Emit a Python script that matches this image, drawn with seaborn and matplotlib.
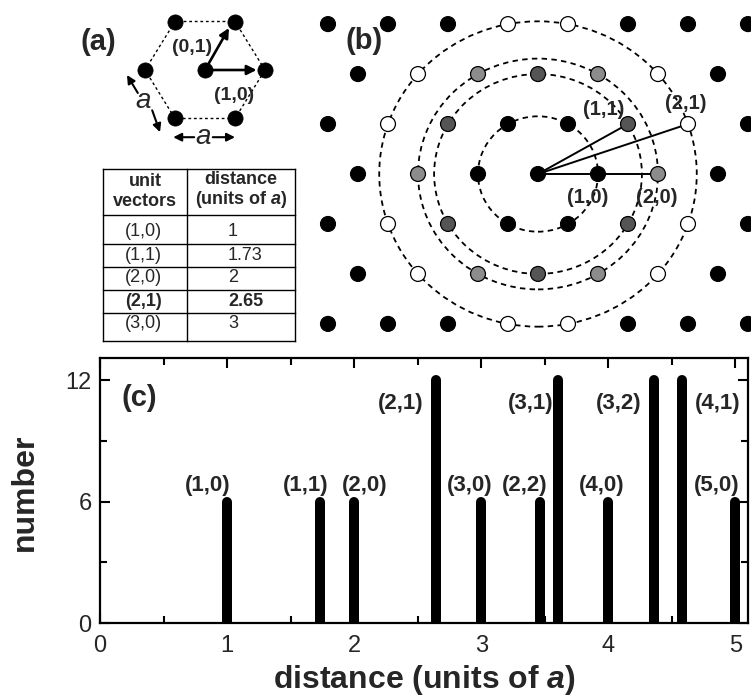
import numpy as np
import pandas as pd
import matplotlib
matplotlib.use("Agg")
import matplotlib.pyplot as plt
from matplotlib.patches import Circle
from matplotlib.ticker import MultipleLocator
import seaborn as sns

# ------------------------------------------------------------------ data
# panel (c): neighbour-distance histogram of a triangular lattice
distances = [1.0, 1.732, 2.0, 2.646, 3.0, 3.464, 3.606, 4.0, 4.359, 4.583, 5.0]
counts = [6, 6, 6, 12, 6, 6, 12, 6, 12, 12, 6]
vector_labels = ["(1,0)", "(1,1)", "(2,0)", "(2,1)", "(3,0)", "(2,2)",
                 "(3,1)", "(4,0)", "(3,2)", "(4,1)", "(5,0)"]
x_ticks = [0, 1, 2, 3, 4, 5]
y_ticks = [0, 6, 12]

# table in panel (a)
table_vectors = ["(1,0)", "(1,1)", "(2,0)", "(2,1)", "(3,0)"]
table_distances = ["1", "1.73", "2", "2.65", "3"]

# panel (b): lattice
lattice_rows = [-3, -2, -1, 0, 1, 2, 3]
even_row_cols = [-3, -2, -1, 0, 1, 2, 3]
odd_row_cols = [-3.5, -2.5, -1.5, -0.5, 0.5, 1.5, 2.5, 3.5]
shell_names = ["(1,0)", "(1,1)", "(2,0)", "(2,1)"]
shell_radii = [1.0, 1.732, 2.0, 2.646]
shell_colors = ["black", "#555555", "#8c8c8c", "white"]
radial_x = [2.0, 1.5, 2.5]
radial_y = [0.0, 0.866, 0.866]

# panel (a): hexagon
hex_x = [1.0, 0.5, -0.5, -1.0, -0.5, 0.5]
hex_y = [0.0, 0.866, 0.866, 0.0, -0.866, -0.866]

# ------------------------------------------------------------------ style
sns.set_theme(style="ticks")
plt.rcParams["font.family"] = ["Liberation Sans", "DejaVu Sans"]
plt.rcParams["mathtext.fontset"] = "custom"
plt.rcParams["mathtext.rm"] = "Liberation Sans"
plt.rcParams["mathtext.it"] = "Liberation Sans:italic:bold"
plt.rcParams["mathtext.bf"] = "Liberation Sans:bold"

W, H = 751, 698
fig = plt.figure(figsize=(W / 100, H / 100), dpi=100)
fig.patch.set_facecolor("white")


def px_axes(x0, y0, x1, y1):
    ax = fig.add_axes([x0 / W, 1 - y1 / H, (x1 - x0) / W, (y1 - y0) / H])
    ax.set_facecolor("none")
    return ax


# ------------------------------------------------------------------ panel (c)
ax_c = px_axes(100, 358, 748, 623)
ax_c.vlines(distances, 0, counts, colors="black", linewidth=7.2,
            capstyle="round", zorder=3)
ax_c.set_xlim(0, 5.1)
ax_c.set_ylim(0, 13.1)
ax_c.set_xticks(x_ticks)
ax_c.set_yticks(y_ticks)
ax_c.xaxis.set_minor_locator(MultipleLocator(0.5))
ax_c.yaxis.set_minor_locator(MultipleLocator(3))
ax_c.tick_params(which="both", direction="in", top=True, right=True,
                 width=1.5, color="black")
ax_c.tick_params(which="major", length=7, labelsize=17)
ax_c.tick_params(which="minor", length=5)
ax_c.tick_params(axis="x", pad=9)
ax_c.tick_params(axis="y", pad=6)
for s in ax_c.spines.values():
    s.set_linewidth(1.6)
    s.set_color("black")

label_x = [0.85, 1.62, 2.08, 2.37, 2.91, 3.34, 3.39, 3.95, 4.08, 4.86, 4.85]
label_y = [6.8, 6.8, 6.8, 10.85, 6.8, 6.8, 10.85, 6.8, 10.85, 10.85, 6.8]
for lab, lx, ly in zip(vector_labels, label_x, label_y):
    ax_c.text(lx, ly, lab, fontsize=16, fontweight="bold",
              ha="center", va="center", zorder=4)
ax_c.text(0.31, 11.1, "(c)", fontsize=21, fontweight="bold",
          ha="center", va="center")

ax_c.set_xlabel("distance (units of $a$)", fontsize=23, fontweight="bold",
                va="center")
ax_c.xaxis.set_label_coords(0.5, (623 - 680) / 265)
ax_c.set_ylabel("number", fontsize=23, fontweight="bold", va="center")
ax_c.yaxis.set_label_coords((25 - 100) / 648, (623 - 492) / 265)

# ------------------------------------------------------------------ panel (b)
ax_b = px_axes(300, 0, 751, 345)
ax_b.set_xlim((300 - 538) / 60, (751 - 538) / 60)
ax_b.set_ylim((174 - 345) / 57.7, 174 / 57.7)
ax_b.axis("off")

recs = []
for r in lattice_rows:
    cols = even_row_cols if r % 2 == 0 else odd_row_cols
    for c in cols:
        y = r * np.sqrt(3) / 2
        d = np.hypot(c, y)
        shell = "other"
        for name, rad in zip(shell_names, shell_radii):
            if abs(d - rad) < 0.05:
                shell = name
        recs.append({"x": c, "y": y, "shell": shell})
lat = pd.DataFrame(recs)
palette = {"other": "black"}
palette.update(dict(zip(shell_names, shell_colors)))

for rad in shell_radii:
    ax_b.add_patch(Circle((0, 0), rad, fill=False, edgecolor="black",
                          lw=1.3, ls=(0, (3, 2.4)), zorder=1))
for vx, vy in zip(radial_x, radial_y):
    ax_b.plot([0, vx], [0, vy], color="black", lw=1.4, zorder=2)

sns.scatterplot(data=lat, x="x", y="y", hue="shell", palette=palette,
                s=115, edgecolor="black", linewidth=0.9, legend=False,
                ax=ax_b, zorder=3, clip_on=False)
ax_b.set_xlabel("")
ax_b.set_ylabel("")

b_labels = [("(1,1)", 1.10, 1.11), ("(2,1)", 2.47, 1.23),
            ("(1,0)", 0.82, -0.40), ("(2,0)", 1.98, -0.40)]
for lab, lx, ly in b_labels:
    ax_b.text(lx, ly, lab, fontsize=14.5, fontweight="bold",
              ha="center", va="center", zorder=4)
ax_b.text(-2.9, 2.3, "(b)", fontsize=21, fontweight="bold",
          ha="center", va="center")

# ------------------------------------------------------------------ panel (a)
ax_a = px_axes(60, 0, 300, 160)
ax_a.set_xlim((60 - 205) / 60, (300 - 205) / 60)
ax_a.set_ylim((70 - 160) / 56, 70 / 56)
ax_a.axis("off")

ax_a.plot(hex_x + [hex_x[0]], hex_y + [hex_y[0]], color="black", lw=1.0,
          ls=(0, (2, 2)), zorder=1)
sns.scatterplot(x=hex_x + [0.0], y=hex_y + [0.0], color="black", s=120,
                edgecolor="black", linewidth=0.5, ax=ax_a, zorder=3,
                legend=False, clip_on=False)

arrow_kw = dict(arrowstyle="-|>", lw=1.9, color="black", mutation_scale=14,
                shrinkA=0, shrinkB=0)
ax_a.annotate("", xy=(0.86, 0.0), xytext=(0.0, 0.0), arrowprops=arrow_kw,
              zorder=2)
ax_a.annotate("", xy=(0.40, 0.75), xytext=(0.0, 0.0), arrowprops=arrow_kw,
              zorder=2)

small_kw = dict(arrowstyle="-|>", lw=1.5, color="black", mutation_scale=12,
                shrinkA=0, shrinkB=0)
ax_a.annotate("", xy=(-1.30, -0.09), xytext=(-1.12, -0.41), arrowprops=small_kw)
ax_a.annotate("", xy=(-0.75, -1.11), xytext=(-0.88, -0.72), arrowprops=small_kw)
ax_a.annotate("", xy=(-0.53, -1.20), xytext=(-0.18, -1.20), arrowprops=small_kw)
ax_a.annotate("", xy=(0.50, -1.20), xytext=(0.13, -1.20), arrowprops=small_kw)
ax_a.text(-1.03, -0.67, "a", fontsize=20, fontstyle="italic",
          ha="center", va="baseline")
ax_a.text(-0.03, -1.33, "a", fontsize=20, fontstyle="italic",
          ha="center", va="baseline")

ax_a.text(-0.22, 0.41, "(0,1)", fontsize=14, fontweight="bold",
          ha="center", va="center")
ax_a.text(0.48, -0.46, "(1,0)", fontsize=14, fontweight="bold",
          ha="center", va="center")
ax_a.text(-1.77, 0.50, "(a)", fontsize=21, fontweight="bold",
          ha="center", va="center")

# ------------------------------------------------------------------ table
ax_t = px_axes(95, 160, 305, 345)
ax_t.set_xlim(95, 305)
ax_t.set_ylim(345, 160)
ax_t.axis("off")
for yl in [169, 215, 244, 267, 290, 313, 341]:
    ax_t.plot([103, 295], [yl, yl], color="black", lw=1.0,
              solid_capstyle="projecting")
for xl in [103, 187, 295]:
    ax_t.plot([xl, xl], [169, 341], color="black", lw=1.0,
              solid_capstyle="projecting")
ax_t.text(145, 182, "unit", fontsize=13, fontweight="bold", ha="center", va="center")
ax_t.text(145, 202, "vectors", fontsize=13, fontweight="bold", ha="center", va="center")
ax_t.text(241, 180, "distance", fontsize=13, fontweight="bold", ha="center", va="center")
ax_t.text(241, 200, "(units of $a$)", fontsize=13, fontweight="bold",
          ha="center", va="center")
row_y = [232, 255, 278, 301, 324]
for i, (v, d) in enumerate(zip(table_vectors, table_distances)):
    w = "bold" if v == "(2,1)" else "normal"
    ax_t.text(143, row_y[i], v, fontsize=13, fontweight=w, ha="center", va="center")
    ax_t.text(228, row_y[i], d, fontsize=13, fontweight=w, ha="left", va="center")

fig.savefig("out.png", dpi=100)
